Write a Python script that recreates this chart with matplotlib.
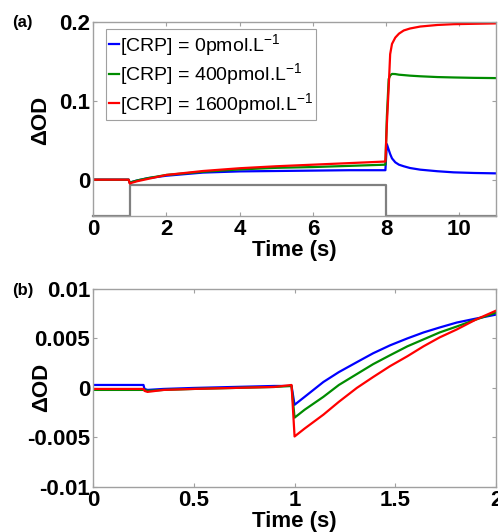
import matplotlib
matplotlib.use("Agg")
import matplotlib.pyplot as plt

plt.rcParams['font.family'] = ['Liberation Sans', 'DejaVu Sans']
plt.rcParams['mathtext.fontset'] = 'custom'
plt.rcParams['mathtext.rm'] = 'Liberation Sans'
plt.rcParams['mathtext.default'] = 'regular'

# ---- panel (a): full run, time in s ----
t_a = [0, 0.97, 1.0, 1.05, 1.2, 1.5, 2, 3, 4, 5, 6, 7, 7.98,
       8.02, 8.07, 8.11, 8.16, 8.25, 8.35, 8.48, 8.65, 8.93, 9.4, 9.84, 10.4, 11]
blue_a = [0, 0, -0.004, -0.003, -0.001, 0.002, 0.005, 0.009, 0.0105, 0.011, 0.0115, 0.012, 0.012,
          0.045, 0.038, 0.0325, 0.027, 0.022, 0.019, 0.017, 0.0148, 0.0127, 0.0107, 0.0093, 0.0085, 0.008]
green_a = [0, 0, -0.004, -0.003, -0.001, 0.002, 0.006, 0.010, 0.013, 0.015, 0.016, 0.0175, 0.019,
           0.08, 0.1275, 0.132, 0.134, 0.1338, 0.133, 0.1325, 0.1318, 0.131, 0.130, 0.1295, 0.129, 0.1287]
red_a = [0, 0, -0.005, -0.004, -0.002, 0.001, 0.006, 0.011, 0.0145, 0.017, 0.019, 0.021, 0.023,
         0.07, 0.117, 0.159, 0.172, 0.18, 0.185, 0.189, 0.1915, 0.194, 0.196, 0.197, 0.1975, 0.198]

# light gate (gray step trace)
gate_t = [0, 1, 1, 8, 8, 11]
gate_v = [-0.046, -0.046, -0.007, -0.007, -0.046, -0.046]

# ---- panel (b): zoom on the switching ----
t_b = [0, 0.25, 0.255, 0.27, 0.35, 0.5, 0.7, 0.9, 0.985, 1.0, 1.05, 1.143, 1.22,
       1.309, 1.39, 1.474, 1.56, 1.64, 1.72, 1.805, 1.9, 2.0]
blue_b = [0.0003, 0.0003, -0.0001, -0.0002, -0.0001, 0.0, 0.0001, 0.0002, 0.0002, -0.0017, -0.0009,
          0.0006, 0.0016, 0.0026, 0.0035, 0.0043, 0.0050, 0.0056, 0.0061, 0.0066, 0.0070, 0.0074]
green_b = [-0.0002, -0.0002, -0.0002, -0.0003, -0.0002, -0.0001, 0.0, 0.0001, 0.0002, -0.003, -0.0022,
           -0.0009, 0.0003, 0.0014, 0.0024, 0.0033, 0.0042, 0.0049, 0.0056, 0.0062, 0.0069, 0.0076]
red_b = [-0.0001, -0.0001, -0.0003, -0.0004, -0.0002, -0.0001, 0.0, 0.0001, 0.0003, -0.0049, -0.0041,
         -0.0027, -0.0014, 0.0, 0.0011, 0.0022, 0.0032, 0.0042, 0.0051, 0.0059, 0.0069, 0.0078]

labels = ['[CRP] = 0pmol.L$^{-1}$', '[CRP] = 400pmol.L$^{-1}$', '[CRP] = 1600pmol.L$^{-1}$']
colors = ['#0000ff', '#008c00', '#ff0000']

xt_a = [0, 2, 4, 6, 8, 10]
yt_a = [0, 0.1, 0.2]
ytl_a = ['0', '0.1', '0.2']
xt_b = [0, 0.5, 1, 1.5, 2]
xtl_b = ['0', '0.5', '1', '1.5', '2']
yt_b = [-0.01, -0.005, 0, 0.005, 0.01]
ytl_b = ['-0.01', '-0.005', '0', '0.005', '0.01']

fig = plt.figure(figsize=(4.98, 5.32), dpi=100, facecolor='white')
ax1 = fig.add_axes([0.187, 0.594, 0.809, 0.365])
ax2 = fig.add_axes([0.187, 0.0846, 0.809, 0.3724])


def style(ax):
    for s in ax.spines.values():
        s.set_color('#a0a0a0')
        s.set_linewidth(1.0)
    ax.tick_params(direction='in', length=3, width=0.8, color='#a0a0a0',
                   top=True, right=True, labelsize=16, pad=2)
    for lab in ax.get_xticklabels() + ax.get_yticklabels():
        lab.set_fontweight('bold')


# (a)
ax1.plot(gate_t, gate_v, color='#808080', lw=1.6, clip_on=False)
ax1.plot(t_a, blue_a, color=colors[0], lw=1.6, label=labels[0])
ax1.plot(t_a, green_a, color=colors[1], lw=1.6, label=labels[1])
ax1.plot(t_a, red_a, color=colors[2], lw=1.6, label=labels[2])
ax1.set_xlim(0, 11)
ax1.set_ylim(-0.046, 0.2)
ax1.set_xticks(xt_a)
ax1.set_yticks(yt_a)
ax1.set_yticklabels(ytl_a)
style(ax1)
ax1.set_xlabel('Time (s)', fontsize=16, fontweight='bold')
ax1.xaxis.set_label_coords(0.5, -0.125)
ax1.set_ylabel('ΔOD', fontsize=16, fontweight='bold')
ax1.yaxis.set_label_coords(-0.105, 0.49)
leg = ax1.legend(loc='upper left', bbox_to_anchor=(0.032, 0.964), borderaxespad=0,
                 fancybox=False, framealpha=1, edgecolor='#a0a0a0', fontsize=14,
                 handlelength=0.5, handletextpad=0.05, labelspacing=0.2,
                 borderpad=0.15)
leg.get_frame().set_linewidth(0.8)

# (b)
ax2.plot(t_b, blue_b, color=colors[0], lw=1.6)
ax2.plot(t_b, green_b, color=colors[1], lw=1.6)
ax2.plot(t_b, red_b, color=colors[2], lw=1.6)
ax2.set_xlim(0, 2)
ax2.set_ylim(-0.01, 0.01)
ax2.set_xticks(xt_b)
ax2.set_xticklabels(xtl_b)
ax2.set_yticks(yt_b)
ax2.set_yticklabels(ytl_b)
style(ax2)
ax2.set_xlabel('Time (s)', fontsize=16, fontweight='bold')
ax2.xaxis.set_label_coords(0.5, -0.12)
ax2.set_ylabel('ΔOD', fontsize=16, fontweight='bold')
ax2.yaxis.set_label_coords(-0.102, 0.5)

fig.text(12 / 498, 1 - 22 / 532, '(a)', fontsize=12, fontweight='bold', va='center')
fig.text(12 / 498, 1 - 291 / 532, '(b)', fontsize=12, fontweight='bold', va='center')

fig.savefig('out.png', dpi=100, facecolor='white')
